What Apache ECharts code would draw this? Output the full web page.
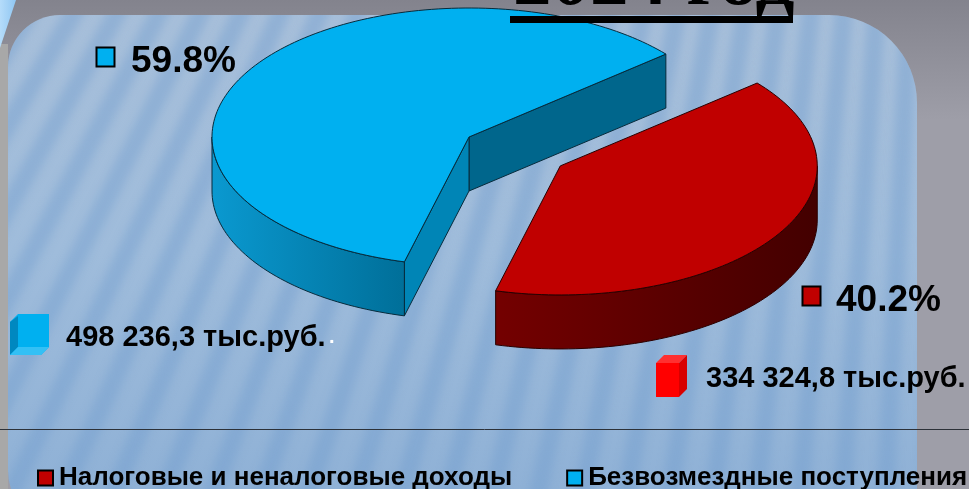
<!DOCTYPE html>
<html>
<head>
<meta charset="utf-8">
<style>
html, body { margin: 0; padding: 0; background: #9c9ca6; }
#chart { width: 969px; height: 489px; }
</style>
<script src="https://cdn.jsdelivr.net/npm/echarts@6/dist/echarts.min.js"></script>
</head>
<body>
<div id="chart"></div>
<script>
var categories = ['Безвозмездные поступления', 'Налоговые и неналоговые доходы'];
var legendOrder = ['Налоговые и неналоговые доходы', 'Безвозмездные поступления'];
var seriesValues = [498236.3, 334324.8];
var percentLabels = ['59.8%', '40.2%'];
var valueLabels = ['498 236,3 тыс.руб.', '334 324,8 тыс.руб.'];
var titleText = '2024 год';

var labelFont = '"Liberation Sans", Arial, sans-serif';
var total = seriesValues[0] + seriesValues[1];

// ellipse of the tilted pie, in pixels
var cx = 469, cy = 137, rx = 257, ry = 129, depth = 54;
var startAngle = 40;     // blue slice starts here and goes counter clockwise
var explode = 0.42;      // red slice is pulled out by this part of the radius

function pt(deg, ox, oy, dy) {
  var a = deg * Math.PI / 180;
  return [ox + rx * Math.cos(a), oy - ry * Math.sin(a) + (dy || 0)];
}

function arcPoints(from, to, ox, oy, dy) {
  var out = [];
  var n = Math.max(2, Math.ceil(Math.abs(to - from) / 1.5));
  for (var i = 0; i <= n; i++) {
    out.push(pt(from + (to - from) * i / n, ox, oy, dy));
  }
  return out;
}

function gradient(c1, c2) {
  return new echarts.graphic.LinearGradient(0, 0, 1, 0, [
    { offset: 0, color: c1 },
    { offset: 1, color: c2 }
  ]);
}

function poly(points, fill, stroke) {
  return {
    type: 'polygon',
    shape: { points: points },
    style: { fill: fill, stroke: stroke, lineWidth: 1 }
  };
}

function renderBlue(params, api) {
  var sweep = api.value(0) / total * 360;
  var end = startAngle + sweep;
  var stroke = '#062b3c';
  var a = pt(startAngle, cx, cy), e = pt(end, cx, cy);
  var front = arcPoints(180, end, cx, cy);
  var frontLow = arcPoints(end, 180, cx, cy, depth);
  return {
    type: 'group',
    children: [
      poly([[cx, cy], a, [a[0], a[1] + depth], [cx, cy + depth]], '#00668c', stroke),
      poly([[cx, cy], e, [e[0], e[1] + depth], [cx, cy + depth]], '#0085b6', stroke),
      poly(front.concat(frontLow), gradient('#0a99d0', '#006f99'), stroke),
      poly([[cx, cy]].concat(arcPoints(startAngle, end, cx, cy)), '#00b0f0', stroke)
    ]
  };
}

function renderRed(params, api) {
  var sweep = api.value(0) / total * 360;
  var start = startAngle + (360 - sweep);
  var end = start + sweep;
  var mid = (start + end) / 2 * Math.PI / 180;
  var ox = cx + explode * rx * Math.cos(mid);
  var oy = cy - explode * ry * Math.sin(mid);
  var stroke = '#2a0000';
  var front = arcPoints(start, 360, ox, oy);
  var frontLow = arcPoints(360, start, ox, oy, depth);
  return {
    type: 'group',
    children: [
      poly(front.concat(frontLow), gradient('#740000', '#430000'), stroke),
      poly([[ox, oy]].concat(arcPoints(start, end, ox, oy)), '#c00000', stroke)
    ]
  };
}

// gray slide frame and the striped blue panel behind the chart
function makeBackground() {
  var c = document.createElement('canvas');
  c.width = 969; c.height = 489;
  var g = c.getContext('2d');

  var bg = g.createLinearGradient(0, 0, 0, 120);
  bg.addColorStop(0, '#83838d');
  bg.addColorStop(1, '#9e9ea8');
  g.fillStyle = bg;
  g.fillRect(0, 0, 969, 489);
  g.fillStyle = '#a8a8a8';
  g.fillRect(0, 44, 8, 445);

  // light wedge in the top left corner
  var w = g.createLinearGradient(0, 0, 16, 0);
  w.addColorStop(0, '#b5dcfa');
  w.addColorStop(1, '#8fc6f2');
  g.fillStyle = w;
  g.beginPath();
  g.moveTo(0, 0); g.lineTo(16, 0); g.lineTo(0, 48);
  g.fill();

  g.save();
  g.beginPath();
  g.roundRect(8, 15, 909, 515, [52, 88, 0, 60]);
  g.clip();
  var p = g.createLinearGradient(0, 15, 0, 489);
  p.addColorStop(0, '#a7bfda');
  p.addColorStop(0.5, '#9fbcdb');
  p.addColorStop(1, '#8fb1d6');
  g.fillStyle = p;
  g.fillRect(0, 0, 969, 489);

  // stripes fan out from a point far above the panel
  g.filter = 'blur(4px)';
  g.strokeStyle = 'rgba(110,155,205,0.38)';
  g.lineWidth = 18;
  var ox = 985, oy = -1540;
  for (var d = 88; d < 135; d += 1.2) {
    var a = d * Math.PI / 180;
    g.beginPath();
    g.moveTo(ox, oy);
    g.lineTo(ox + 2600 * Math.cos(a), oy + 2600 * Math.sin(a));
    g.stroke();
  }
  g.restore();
  return c;
}

function cube(x, y, w, h, d, front, top, side) {
  return [
    { type: 'polygon', z: 1, shape: { points: [[x, y], [x + d, y - d], [x + w + d, y - d], [x + w, y]] }, style: { fill: top } },
    { type: 'polygon', z: 1, shape: { points: [[x + w, y], [x + w + d, y - d], [x + w + d, y + h - d], [x + w, y + h]] }, style: { fill: side } },
    { type: 'rect', z: 1, shape: { x: x, y: y, width: w, height: h }, style: { fill: front } }
  ];
}

function label(text, x, y, size, fill) {
  return {
    type: 'text', z: 1, x: x, y: y,
    style: { text: text, font: 'bold ' + size + 'px ' + labelFont, fill: fill || '#000', textVerticalAlign: 'middle' }
  };
}

function square(x, y, fill) {
  return {
    type: 'rect', z: 1,
    shape: { x: x, y: y, width: 18, height: 19 },
    style: { fill: fill, stroke: '#000', lineWidth: 2 }
  };
}

var graphicElements = [
  { type: 'image', z: -10, silent: true, style: { image: makeBackground(), x: 0, y: 0, width: 969, height: 489 } },
  { type: 'line', z: 1, shape: { x1: 0, y1: 429.5, x2: 969, y2: 429.5 }, style: { stroke: '#2c3138', lineWidth: 1 } },
  { type: 'rect', z: 20, shape: { x: 510, y: 16, width: 283, height: 7 }, style: { fill: '#000' } },
  square(96.5, 47.5, '#00b0f0'),
  square(802.5, 286.5, '#c00000'),
  label(percentLabels[0], 131, 62, 37),
  label(percentLabels[1], 836, 301, 37),
  label(valueLabels[0], 66, 338, 29),
  label('.', 329, 337, 20, '#fff'),
  label(valueLabels[1], 706, 379, 29)
].concat(
  // blue cube is drawn with the depth going into the front left corner
  [
    { type: 'polygon', z: 1, shape: { points: [[10, 322], [18, 314], [49, 314], [49, 347], [41, 355], [10, 355]] }, style: { fill: '#00b0f0' } },
    { type: 'polygon', z: 1, shape: { points: [[10, 322], [18, 316], [18, 347], [10, 355]] }, style: { fill: '#0088c0' } },
    { type: 'polygon', z: 1, shape: { points: [[10, 355], [18, 347], [49, 347], [41, 355]] }, style: { fill: '#33c0f5' } }
  ],
  cube(656, 363, 23, 34, 8, '#ff0000', '#ff3030', '#d80000')
);

var chart = echarts.init(document.getElementById('chart'), null, { renderer: 'canvas' });

chart.setOption({
  animation: false,
  backgroundColor: 'transparent',
  title: {
    text: titleText,
    left: 508,
    top: -59,
    z: 20,
    textStyle: { fontFamily: '"Liberation Serif", "Times New Roman", serif', fontWeight: 'bold', fontSize: 77, color: '#000' }
  },
  legend: {
    left: 37,
    top: 465,
    data: legendOrder,
    icon: 'rect',
    itemWidth: 15,
    itemHeight: 15,
    itemGap: 54,
    padding: 0,
    textStyle: { fontFamily: labelFont, fontWeight: 'bold', fontSize: 26, color: '#000', padding: [0, 0, 0, 1] }
  },
  graphic: { elements: graphicElements },
  series: [
    {
      type: 'custom',
      name: categories[0],
      coordinateSystem: 'none',
      renderItem: renderBlue,
      itemStyle: { color: '#00b0f0', borderColor: '#000', borderWidth: 2 },
      data: [[seriesValues[0]]]
    },
    {
      type: 'custom',
      name: categories[1],
      coordinateSystem: 'none',
      renderItem: renderRed,
      itemStyle: { color: '#c00000', borderColor: '#000', borderWidth: 2 },
      data: [[seriesValues[1]]]
    }
  ]
});
</script>
</body>
</html>
